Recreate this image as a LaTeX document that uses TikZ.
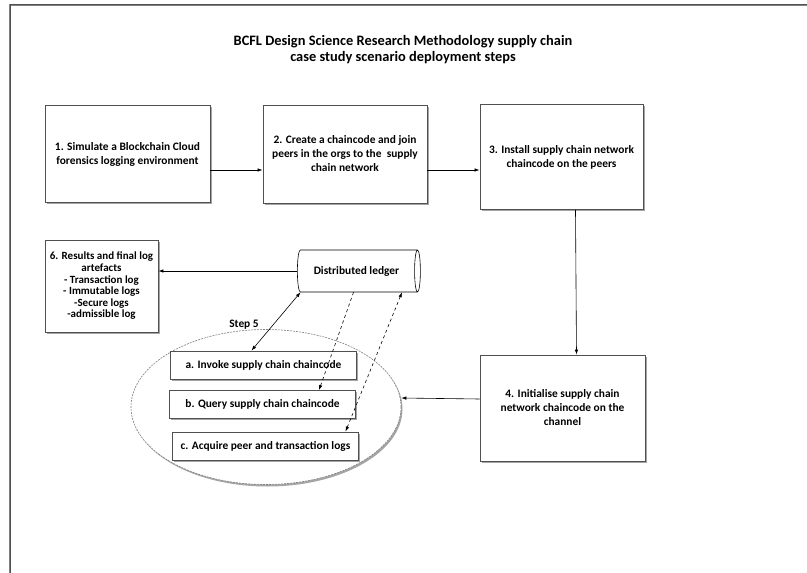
\documentclass[tikz,border=0pt]{standalone}
\usepackage{fontspec}
\setmainfont{Carlito}
\usetikzlibrary{shapes.geometric,arrows.meta,shadows}
\definecolor{boxgray}{RGB}{80,80,80}
\definecolor{shadegray}{RGB}{165,165,165}

\begin{document}
\begin{tikzpicture}[x=1pt, y=-1pt,
    font=\fontsize{11.4}{14}\selectfont\bfseries,
    stepbox/.style={draw=boxgray, line width=0.9pt, fill=white, align=center,
        drop shadow={shadow xshift=1.5pt, shadow yshift=-1.5pt, fill=shadegray, opacity=1}},
    subbox/.style={stepbox, minimum width=186pt, minimum height=28pt},
    arr/.style={-{Latex[length=5pt, width=3.5pt]}, line width=0.6pt},
    darr/.style={{Latex[length=5pt, width=3.5pt]}-{Latex[length=5pt, width=3.5pt]}, line width=0.6pt}]
    \useasboundingbox (0,0) rectangle (807,573);
    % Frame
    \draw[gray, line width=1.4pt] (10,573) -- (10,5) -- (807,5);
    \draw[boxgray, line width=0.6pt] (10,573) -- (10,4.5) -- (807,4.5);
    \node[align=center, font=\fontsize{14.4}{16}\selectfont\bfseries] (title) at (403,50)
        {BCFL Design Science Research Methodology supply chain\\case study scenario deployment steps};

    % Deployment steps
    \begin{scope}
        \node[stepbox, minimum width=165pt, minimum height=97pt] (s1) at (127.5,154)
            {1. Simulate a Blockchain Cloud\\forensics logging environment};
        \node[stepbox, minimum width=164pt, minimum height=98pt] (s2) at (345,154)
            {2. Create a chaincode and join\\peers in the orgs to the\ \ supply\\chain network};
        \node[stepbox, minimum width=163pt, minimum height=105pt] (s3) at (561.5,157)
            {3. Install supply chain network\\chaincode on the peers};
        \node[stepbox, minimum width=165pt, minimum height=106pt] (s4) at (562.5,408)
            {4. Initialise supply chain\\network chaincode on the\\channel};
        \node[stepbox, minimum width=113pt, minimum height=92pt, inner sep=1pt,
            font=\fontsize{11}{11.6}\selectfont\bfseries] (s6) at (101.5,286)
            {6. Results and final log\\artefacts\\- Transaction log\\- Immutable logs\\-Secure logs\\-admissible log};
    \end{scope}

    % Step 5 group
    \begin{scope}
        \node[ellipse, draw=gray, dash pattern=on 2pt off 1pt, line width=0.6pt, fill=white,
            minimum width=270pt, minimum height=155pt,
            drop shadow={shadow xshift=1.5pt, shadow yshift=-2pt, fill=shadegray, opacity=1}] (grp) at (266,407) {};
        \node[subbox] (inv) at (263.5,365) {a. Invoke supply chain chaincode};
        \node[subbox] (qry) at (262.5,404.5) {b. Query supply chain chaincode};
        \node[subbox] (acq) at (265.5,446) {c. Acquire peer and transaction logs};
        \node (step) at (244,325) {Step 5};
    \end{scope}

    % Ledger
    \node[cylinder, draw=black, line width=0.6pt, fill=white, aspect=0.35,
        minimum width=42pt, minimum height=123pt, shape border rotate=0] (ledger) at (356.5,271) {Distributed ledger};

    % Connectors
    \draw[arr] ([yshift=-16pt]s1.east) -- ([yshift=-16pt]s1.east -| s2.west);
    \draw[arr] ([yshift=-16pt]s2.east) -- ([yshift=-16pt]s2.east -| s3.west);
    \draw[arr] ([xshift=14pt]s3.south) -- ([xshift=14pt]s4.north);
    \draw[arr] ([yshift=9pt]s4.west) -- ([yshift=9pt]grp.east);
    \draw[arr] (ledger.west) -- (ledger.west -| s6.east);
    \draw[darr] ([xshift=-56pt]ledger.south) -- ([xshift=-12pt]inv.north);
    \draw[arr, dashed] ([xshift=-3pt]ledger.south) -- ([xshift=56.5pt]qry.north);
    \draw[darr, dashed] ([xshift=80pt]acq.north) -- ([xshift=45.5pt]ledger.south);
\end{tikzpicture}
\end{document}
